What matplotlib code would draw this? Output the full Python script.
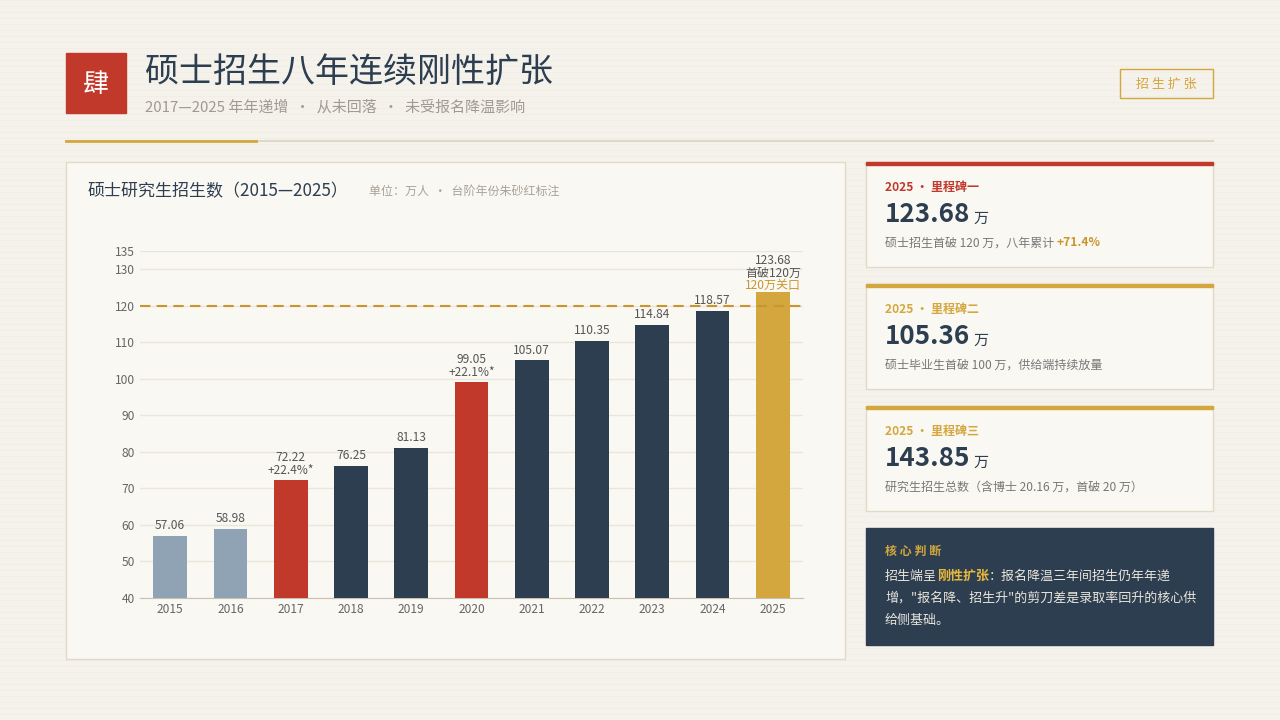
import matplotlib.pyplot as plt
from matplotlib.patches import Rectangle

plt.rcParams['font.family'] = ['Noto Sans CJK SC', 'DejaVu Sans']

years = ['2015', '2016', '2017', '2018', '2019', '2020', '2021', '2022', '2023', '2024', '2025']
values = [57.06, 58.98, 72.22, 76.25, 81.13, 99.05, 105.07, 110.35, 114.84, 118.57, 123.68]
colors = ['#8fa3b5', '#8fa3b5', '#c0392b', '#2c3e50', '#2c3e50', '#c0392b',
          '#2c3e50', '#2c3e50', '#2c3e50', '#2c3e50', '#d4a73e']
extra = {2: '+22.4%*', 5: '+22.1%*'}
yticks = [40, 50, 60, 70, 80, 90, 100, 110, 120, 130, 135]

cards = [('2025 · 里程碑一', '123.68', '硕士招生首破 120 万，八年累计 ', '+71.4%', '#c0392b'),
         ('2025 · 里程碑二', '105.36', '硕士毕业生首破 100 万，供给端持续放量', '', '#d4a73e'),
         ('2025 · 里程碑三', '143.85', '研究生招生总数（含博士 20.16 万，首破 20 万）', '', '#d4a73e')]

W, H = 1280, 720
fig = plt.figure(figsize=(12.8, 7.2), dpi=100)
fig.patch.set_facecolor('#f5f2ec')
bg = fig.add_axes([0, 0, 1, 1])
bg.set_xlim(0, W)
bg.set_ylim(H, 0)
bg.axis('off')

for y in range(0, H, 6):
    bg.axhline(y, color='#f0ece5', lw=0.5, zorder=0)

def px(s):
    return s * 72 / 100

def after(prev, s, gap=0, **kw):
    # place text right after another text artist
    return bg.annotate(s, xy=(1, 0.5), xycoords=prev, xytext=(gap, 0),
                       textcoords='offset points', va='center', ha='left', **kw)

# header
bg.add_patch(Rectangle((66, 53), 60, 60, color='#c0392b'))
bg.text(96, 84, '肆', color='white', fontsize=px(26), ha='center', va='center')
bg.text(145, 72, '硕士招生八年连续刚性扩张', color='#2c3e50', fontsize=px(34), va='center')
bg.text(145, 107, '2017—2025 年年递增  ·  从未回落  ·  未受报名降温影响', color='#a09a90', fontsize=px(15), va='center')
bg.add_patch(Rectangle((1120, 69), 93, 29, fill=False, ec='#d4a73e', lw=1))
bg.text(1166, 84, '招 生 扩 张', color='#d4a73e', fontsize=px(13), ha='center', va='center')
bg.plot([66, 1213], [141, 141], color='#e0d8c6', lw=1.5)
bg.plot([66, 256], [141, 141], color='#d4a73e', lw=2)

# chart panel
bg.add_patch(Rectangle((66, 162), 779, 497, fc='#faf8f3', ec='#e2dac9', lw=1))
bg.text(87, 191, '硕士研究生招生数（2015—2025）', color='#2c3e50', fontsize=px(17), va='center')
bg.text(369, 191, '单位：万人  ·  台阶年份朱砂红标注', color='#a8a298', fontsize=px(12), va='center')

ax = fig.add_axes([140 / W, (H - 598) / H, 663 / W, 347 / H])
ax.set_facecolor('none')
x = range(len(years))
ax.bar(x, values, width=0.56, color=colors, zorder=3)
ax.set_ylim(40, 135)
ax.set_xlim(-0.5, len(years) - 0.5)
ax.set_yticks(yticks)
ax.set_xticks(list(x))
ax.set_xticklabels(years)
ax.tick_params(length=0, colors='#666666', labelsize=px(12))
for t in yticks:
    ax.axhline(t, color='#ece6da', lw=1, zorder=1)
for s in ['top', 'right', 'left']:
    ax.spines[s].set_visible(False)
ax.spines['bottom'].set_color('#c8c0b0')
ax.axhline(120, color='#c9962e', lw=1.5, ls=(0, (5, 3)), zorder=4)
for i, v in enumerate(values[:-1]):
    label = f'{v:.2f}' if i not in extra else f'{v:.2f}\n{extra[i]}'
    ax.text(i, v + 1, label, ha='center', va='bottom', fontsize=px(12),
            color='#555555', linespacing=1.0)
ax.text(10, values[-1] + 3.5, f'{values[-1]:.2f}\n首破120万', ha='center', va='bottom',
        fontsize=px(12), color='#555555', linespacing=1.0)
ax.text(10, values[-1] + 0.2, '120万关口', ha='center', va='bottom', fontsize=px(12),
        color='#c9962e', zorder=5)

# cards
tops = [162, 284, 406]
for top, (head, big, desc, hl, c) in zip(tops, cards):
    bg.add_patch(Rectangle((866, top), 347, 105, fc='#faf8f3', ec='#e2dac9', lw=1))
    bg.add_patch(Rectangle((866, top), 347, 3, color=c))
    bg.text(885, top + 25, head, color=c, fontsize=px(12), va='center', fontweight='bold')
    t = bg.text(885, top + 53, big, color='#2c3e50', fontsize=px(26), va='baseline',
                fontweight='bold')
    t.set_va('center')
    bg.annotate('万', xy=(1, 0), xycoords=t, xytext=(2, 2), textcoords='offset points',
                va='bottom', ha='left', color='#2c3e50', fontsize=px(15))
    d = bg.text(885, top + 81, desc, color='#777777', fontsize=px(12), va='center')
    if hl:
        after(d, hl, color='#c9962e', fontsize=px(12), fontweight='bold')

# core judgement box
bg.add_patch(Rectangle((866, 528), 347, 117, color='#2c3e50'))
bg.text(885, 551, '核 心 判 断', color='#d4a73e', fontsize=px(12), va='center', fontweight='bold')
a = bg.text(885, 576, '招生端呈', color='#e8e4dc', fontsize=px(13), va='center')
b = after(a, '刚性扩张', color='#e8b83e', fontsize=px(13), fontweight='bold')
after(b, '：报名降温三年间招生仍年年递', color='#e8e4dc', fontsize=px(13))
bg.text(885, 598, '增，"报名降、招生升"的剪刀差是录取率回升的核心供', color='#e8e4dc', fontsize=px(13), va='center')
bg.text(885, 620, '给侧基础。', color='#e8e4dc', fontsize=px(13), va='center')

fig.savefig('out.png', dpi=100, facecolor=fig.get_facecolor())
